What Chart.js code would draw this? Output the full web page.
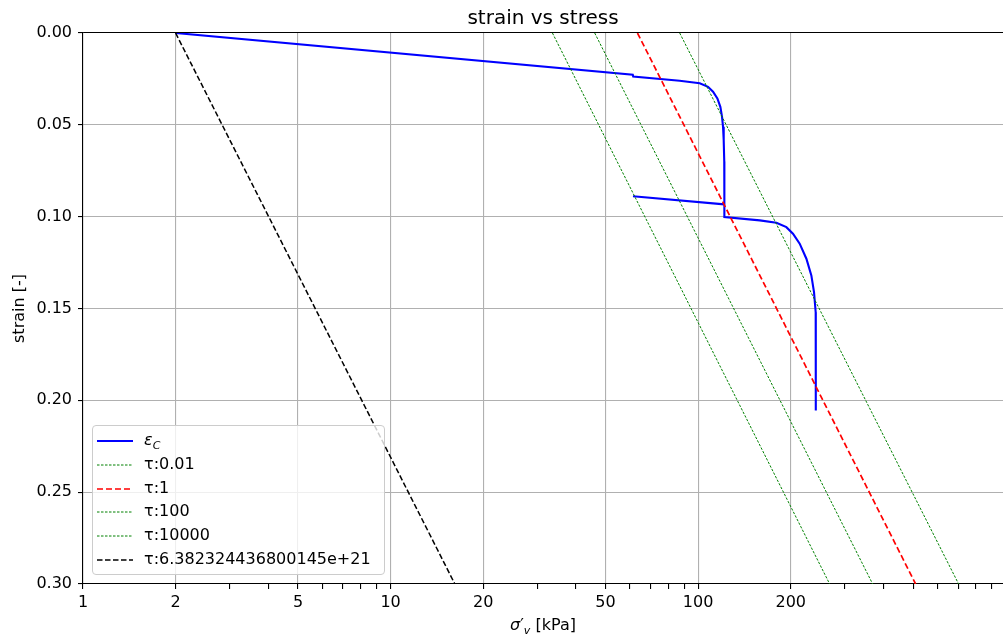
<!DOCTYPE html>
<html>
<head>
<meta charset="utf-8">
<script src="https://cdn.jsdelivr.net/npm/chart.js@4.4.1/dist/chart.umd.min.js"></script>
<style>
  body { margin: 0; background: #fff; }
  #wrap { position: relative; width: 1003px; height: 642px; font-family: "DejaVu Sans", sans-serif; }
  #title { position: absolute; top: 4px; left: 83px; width: 920px; text-align: center; font-size: 20px; line-height: 26px; }
  #legend {
    position: absolute; left: 92px; top: 425px; width: 291px; height: 148px;
    background: rgba(255,255,255,0.8); border: 1px solid #cccccc; border-radius: 4px;
    font-size: 16px; color: #000;
  }
  .row { position: absolute; left: 0; width: 100%; height: 24px; line-height: 24px; }
  .row svg { position: absolute; left: 4px; top: 11px; }
  .row span { position: absolute; left: 51px; white-space: nowrap; }
  #xlabel { position: absolute; top: 615px; left: 83px; width: 920px; text-align: center; font-size: 16px; }
  sub { font-size: 11px; vertical-align: -4px; }
</style>
</head>
<body>
<div id="wrap">
  <canvas id="chart" width="1003" height="642"></canvas>
  <div id="title">strain vs stress</div>
  <div id="legend"></div>
  <div id="xlabel"><i>σ</i>′<sub><i>v</i></sub> [kPa]</div>
</div>
<script>
// tick values on the log axis, and which of them get a label + grid line
const xTickValues = [1,2,3,4,5,6,7,8,9,10,20,30,40,50,60,70,80,90,100,200,300,400,500,600,700,800,900];
const xTickLabels = [1, 2, 5, 10, 20, 50, 100, 200];

// measured curve epsilon_C (loading, creep, unloading, reloading)
const stressC = [2, 61.3, 61.5, 87.1, 101.2, 107.7, 111.8, 115.5, 118.1, 119.6, 120.5, 121.1, 121.6, 121.7,
                 61.4, 121.7, 121.7, 158.6, 179.7, 193.6, 203.4, 213.9, 224.9, 233.4, 238.1, 241.1, 241.3];
const strainC = [0, 0.0227, 0.0237, 0.0260, 0.0274, 0.0293, 0.0320, 0.0356, 0.0402, 0.0457, 0.0511, 0.0584, 0.07, 0.0933,
                 0.0889, 0.0933, 0.1002, 0.1020, 0.1033, 0.1057, 0.1093, 0.1147, 0.1229, 0.1320, 0.1411, 0.1520, 0.2056];

// isotache lines: stress at strain 0 and at strain 0.30
const lineStrain = [0, 0.3];
const tau001Stress = [87.1, 703];
const tau1Stress = [63.5, 509.5];
const tau100Stress = [46.1, 369.4];
const tau10000Stress = [33.6, 267.7];
const tauBigStress = [2.0, 16.18];

const toPts = (xs, ys) => xs.map((x, i) => ({ x: x, y: ys[i] }));

const series = [
  { label: 'ε_C', html: '<i>ε</i><sub><i>C</i></sub>', xs: stressC, ys: strainC, color: '#0000ff', width: 2.1, dash: [], order: 2 },
  { label: 'τ:0.01', xs: tau001Stress, ys: lineStrain, color: '#008000', width: 1, dash: [2.5, 1.5], order: 1 },
  { label: 'τ:1', xs: tau1Stress, ys: lineStrain, color: '#ff0000', width: 1.7, dash: [6, 3], order: 1 },
  { label: 'τ:100', xs: tau100Stress, ys: lineStrain, color: '#008000', width: 1, dash: [2.5, 1.5], order: 1 },
  { label: 'τ:10000', xs: tau10000Stress, ys: lineStrain, color: '#008000', width: 1, dash: [2.5, 1.5], order: 1 },
  { label: 'τ:6.382324436800145e+21', xs: tauBigStress, ys: lineStrain, color: '#000000', width: 1.5, dash: [5.5, 2.5], order: 1 }
];

const font = "'DejaVu Sans', sans-serif";

new Chart(document.getElementById('chart').getContext('2d'), {
  type: 'scatter',
  data: {
    datasets: series.map(s => ({
      label: s.label,
      data: toPts(s.xs, s.ys),
      showLine: true,
      borderColor: s.color,
      backgroundColor: s.color,
      borderWidth: s.width,
      borderDash: s.dash,
      pointRadius: 0,
      tension: 0,
      order: s.order
    }))
  },
  options: {
    responsive: false,
    animation: false,
    devicePixelRatio: 1,
    layout: { padding: { top: 33, left: 0, right: 0, bottom: 0 } },
    plugins: {
      legend: { display: false },
      tooltip: { enabled: false },
      title: { display: false }
    },
    scales: {
      x: {
        type: 'logarithmic', min: 1, max: 980,
        afterBuildTicks: s => { s.ticks = xTickValues.map(v => ({ value: v })); },
        afterFit: s => { s.height = 58; },
        ticks: {
          autoSkip: false, maxRotation: 0, padding: 4, color: '#000',
          font: { family: font, size: 16 },
          callback: v => xTickLabels.includes(v) ? String(v) : ''
        },
        grid: {
          color: c => (c.tick && xTickLabels.includes(c.tick.value)) ? '#b0b0b0' : 'rgba(0,0,0,0)',
          tickColor: '#000', tickLength: 5, lineWidth: 1.1
        },
        border: { color: '#000', width: 1.1 }
      },
      y: {
        type: 'linear', reverse: true, min: 0, max: 0.3,
        afterFit: s => { s.width = 83; },
        ticks: {
          stepSize: 0.05, padding: 6, color: '#000',
          font: { family: font, size: 16 },
          callback: v => v.toFixed(2)
        },
        grid: {
          color: c => (c.tick && c.tick.value === 0) ? '#000' : '#b0b0b0',
          tickColor: '#000', tickLength: 5, lineWidth: 1.1
        },
        border: { color: '#000', width: 1.1 },
        title: {
          display: true, text: 'strain [-]', color: '#000',
          font: { family: font, size: 16 }, padding: { top: 10, bottom: 0 }
        }
      }
    }
  }
});

// legend box drawn inside the plot, like the matplotlib one
const legend = document.getElementById('legend');
series.forEach((s, i) => {
  const row = document.createElement('div');
  row.className = 'row';
  row.style.top = Math.round(2 + i * 23.8) + 'px';
  const svg = `<svg width="36" height="4"><line x1="0" y1="2" x2="36" y2="2" stroke="${s.color}" stroke-width="${s.width}" stroke-dasharray="${s.dash.join(',') || 'none'}"/></svg>`;
  row.innerHTML = svg + '<span>' + (s.html || s.label) + '</span>';
  legend.appendChild(row);
});
</script>
</body>
</html>
